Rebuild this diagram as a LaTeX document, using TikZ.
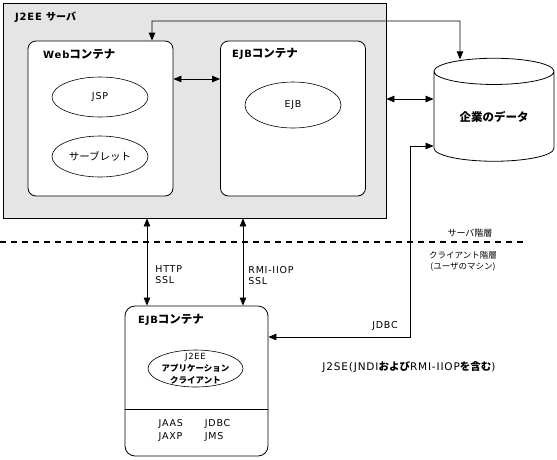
\documentclass[tikz,border=0pt]{standalone}
\usepackage{fontspec}
\setmainfont{DejaVu Sans}[LetterSpace=8]
\newfontfamily\jp{Noto Sans CJK JP}
\usetikzlibrary{arrows.meta,shapes.geometric}

\begin{document}
\begin{tikzpicture}[
  x=1pt,y=-1pt,
  >={Triangle[length=8pt,width=6.5pt]},
  tier/.style={draw,line width=0.8pt,fill=gray!20,inner sep=0pt},
  container/.style={draw,line width=0.8pt,fill=white,rounded corners=8pt,
    inner sep=0pt,minimum width=145pt,minimum height=155pt},
  oval/.style={draw,ellipse,line width=0.6pt,fill=white,inner sep=0pt,
    font=\fontsize{9.5}{11}\selectfont},
  head/.style={font=\bfseries\fontsize{10}{12}\selectfont,anchor=west,inner sep=0pt},
  note/.style={font=\fontsize{9.5}{11}\selectfont,align=left,inner sep=0pt},
  flow/.style={<->,line width=0.8pt}
]
\useasboundingbox (0,0) rectangle (557,459);

% server side
\node[tier,minimum width=383pt,minimum height=215pt] (server) at (194.5,110.5) {};
\node[head] (serverhead) at (15,17) {J2EE {\jp サーバ}};

\node[container] (web) at (100.5,118.5) {};
\node[head] (webhead) at (43,54) {Web{\jp\fontsize{11.5}{12}\selectfont コンテナ}};
\node[oval,minimum width=96pt,minimum height=40pt] (jsp) at (100,97) {JSP};
\node[oval,minimum width=96pt,minimum height=41pt] (servlet) at (100,156.5)
  {\jp\fontsize{10.5}{12}\selectfont サーブレット};

\node[container] (ejbc) at (293,118.5) {};
\node[head] (ejbhead) at (232,54) {EJB{\jp\fontsize{11.5}{12}\selectfont コンテナ}};
\node[oval,minimum width=96pt,minimum height=46pt] (ejb) at (293,105) {EJB};

\node[draw,cylinder,shape border rotate=90,aspect=0.38,line width=0.8pt,
  minimum width=120pt,minimum height=103pt,inner sep=0pt,
  font=\jp\bfseries\fontsize{11.5}{13}\selectfont] (db) at (494,116.5) {企業のデータ};

% client side
\node[draw,line width=0.8pt,rounded corners=10pt,minimum width=143pt,
  minimum height=150pt,inner sep=0pt] (client) at (196.5,381) {};
\node[head] (clienthead) at (138,320) {EJB{\jp\fontsize{11.5}{12}\selectfont コンテナ}};
\node[oval,minimum width=95pt,minimum height=37pt] (app) at (195.5,368.5) {};
\node[note,align=center,font=\fontsize{8.5}{12}\selectfont] (apptext) at (app)
  {J2EE\\{\jp\bfseries アプリケーション}\\{\jp\bfseries クライアント}};
\coordinate (split) at (0,409);
\draw[line width=0.8pt] (client.west |- split) -- (client.east |- split);
\node[note,font=\fontsize{9.5}{13}\selectfont] (libs) at (194.5,430)
  {\begin{tabular}{@{}l@{\hspace{22pt}}l@{}}JAAS & JDBC\\JAXP & JMS\end{tabular}};

% tier boundary
\coordinate (tierL) at (0,242);
\coordinate (tierR) at (523,242);
\draw[line width=1.5pt,dash pattern=on 6pt off 5pt] (tierL) -- (tierR);
\node[note,font=\jp\fontsize{9}{11}\selectfont] (servertier) at (470,233) {サーバ階層};
\node[note,align=center,font=\jp\fontsize{8.5}{11}\selectfont] (clienttier) at (463,261)
  {クライアント階層\\(ユーザのマシン)};

% connectors
\coordinate (bus) at (460,21);
\draw[flow] ([xshift=51.5pt]web.north) |- (bus) -- ([xshift=-34pt,yshift=-1.5pt]db.north);
\draw[flow] ([yshift=39.5pt]web.east) -- ([yshift=39.5pt]ejbc.west);
\draw[flow] ([yshift=11.5pt]server.east) -- ([yshift=11.5pt]server.east -| db.west);
\draw[flow] ([xshift=-49.5pt]client.north) -- ([xshift=-49.5pt]client.north |- server.south)
  node[note,right=8pt,pos=.35] {HTTP\\SSL};
\draw[flow] ([xshift=46.5pt]client.north) -- ([xshift=46.5pt]client.north |- server.south)
  node[note,right=5pt,pos=.35] {RMI-IIOP\\SSL};
\draw[flow] ([yshift=-29.5pt]db.west) -- ++(-23,0) |- ([yshift=44pt]client.east);
\node[note] (jdbc) at (385,326) {JDBC};
\node[note,font=\fontsize{10.5}{12}\selectfont] (j2se) at (409,367)
  {J2SE(JNDI{\jp\bfseries および}RMI-IIOP{\jp\bfseries を含む})};
\end{tikzpicture}
\end{document}
